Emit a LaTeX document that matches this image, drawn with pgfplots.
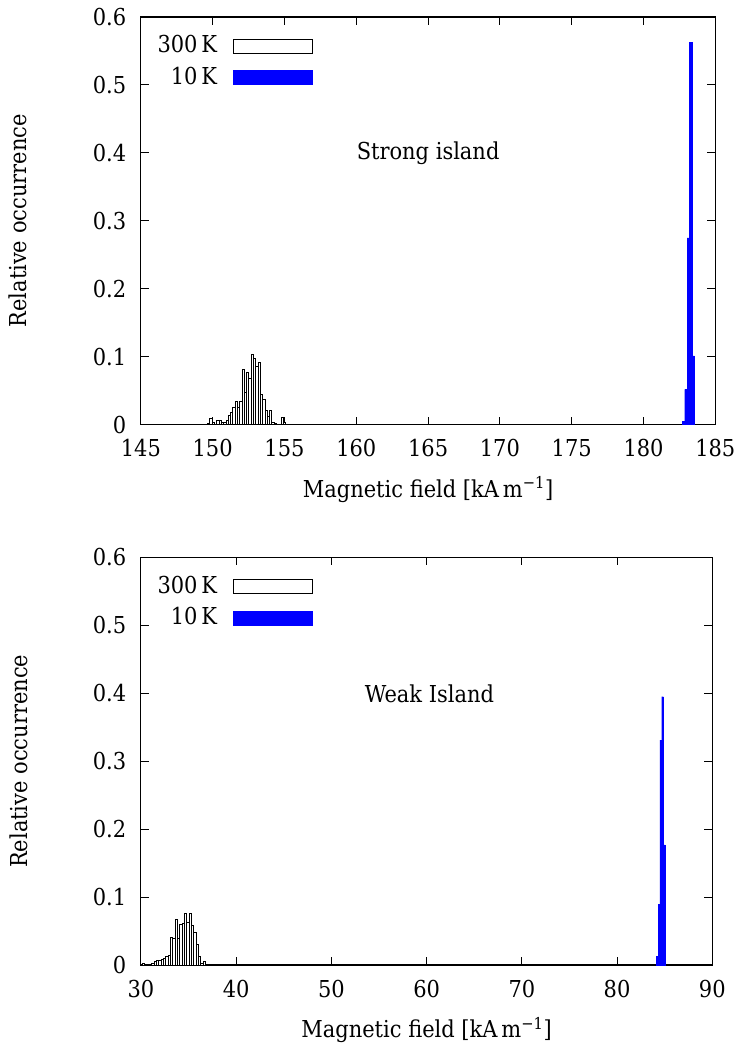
\documentclass[border=0pt]{standalone}
\usepackage{fontspec}
\setmainfont{DejaVu Serif Condensed}
\usepackage{pgfplots}
\usepackage{pgfplotstable}
\pgfplotsset{compat=1.18}
\definecolor{myblue}{RGB}{0,0,255}

\pgfplotstableread{
x y
149.48 0.001
149.64 0.002
149.80 0.009
149.96 0.003
150.12 0.001
150.28 0.006
150.44 0.006
150.60 0.003
150.76 0.004
150.92 0.006
151.08 0.014
151.24 0.018
151.40 0.025
151.56 0.034
151.72 0.025
151.88 0.034
152.04 0.082
152.20 0.047
152.36 0.077
152.52 0.068
152.68 0.104
152.84 0.098
153.00 0.086
153.16 0.092
153.32 0.044
153.48 0.037
153.64 0.021
153.80 0.012
153.96 0.021
154.12 0.004
154.28 0.002
154.44 0.000
154.60 0.000
154.76 0.010
154.92 0.003
155.08 0.000
}\strongwarm

\pgfplotstableread{
x y
182.70 0.005
182.87 0.052
183.03 0.275
183.20 0.563
183.37 0.101
183.54 0
}\strongcold

\pgfplotstableread{
x y
30.175 0.002
30.420 0.000
30.665 0.000
30.909 0.001
31.154 0.002
31.399 0.006
31.644 0.007
31.889 0.007
32.134 0.008
32.378 0.010
32.623 0.013
32.868 0.015
33.113 0.041
33.358 0.040
33.602 0.067
33.847 0.040
34.092 0.060
34.337 0.062
34.582 0.076
34.826 0.063
35.071 0.076
35.316 0.058
35.561 0.048
35.806 0.030
36.050 0.013
36.295 0.003
36.540 0.005
36.785 0
}\weakwarm

\pgfplotstableread{
x y
84.14 0.013
84.32 0.089
84.50 0.331
84.68 0.395
84.86 0.177
85.04 0
}\weakcold

\pgfplotsset{
  boxlegend/.style={legend image code/.code={\draw[##1] (0pt,-5.25pt) rectangle (59pt,5.25pt);}},
  hist/.style={
    scale only axis, height=306pt,
    ymin=0, ymax=0.6, ytick={0,0.1,0.2,0.3,0.4,0.5,0.6},
    tick align=inside, major tick length=6pt,
    xtick pos=both, ytick pos=both,
    axis line style={line width=0.9pt},
    every tick/.style={black, line width=0.8pt},
    /pgf/number format/assume math mode=true,
    yticklabel style={/pgf/number format/fixed, /pgf/number format/precision=1, xshift=-5pt},
    xticklabel style={yshift=-5pt},
    ylabel={Relative occurrence},
    xlabel={Magnetic field [kA\,m\textsuperscript{−1}]},
    ylabel style={at={(axis description cs:-0.214,0.5)}, anchor=center},
    xlabel style={at={(axis description cs:0.5,-0.159)}, anchor=center},
    legend style={draw=none, fill=none, at={(axis description cs:0.017,0.968)}, anchor=north west,
      row sep=4pt, column sep=4pt, /tikz/every odd column/.style={column sep=10pt}},
    legend cell align=right, legend plot pos=right,
  }
}

\begin{document}
\fontsize{17.5pt}{20pt}\selectfont
\begin{tikzpicture}
\path[use as bounding box] (-105.75pt,12.75pt) rectangle (447pt,-778.5pt);
\begin{axis}[hist, width=431.25pt, at={(0pt,0pt)}, anchor=north west,
  xmin=145, xmax=185, xtick={145,150,...,185}]
\addplot[ybar interval, fill=white, draw=black, line width=0.55pt, boxlegend] table[x=x,y=y] {\strongwarm};
\addlegendentry{300\,K}
\addplot[ybar interval, fill=myblue, draw=myblue, line width=0.2pt, boxlegend] table[x=x,y=y] {\strongcold};
\addlegendentry{10\,K}
\node at (axis cs:165,0.40) {Strong island};
\end{axis}
\begin{axis}[hist, width=429pt, at={(0pt,-405.75pt)}, anchor=north west,
  xmin=30, xmax=90, xtick={30,40,...,90}]
\addplot[ybar interval, fill=white, draw=black, line width=0.55pt, boxlegend] table[x=x,y=y] {\weakwarm};
\addlegendentry{300\,K}
\addplot[ybar interval, fill=myblue, draw=myblue, line width=0.2pt, boxlegend] table[x=x,y=y] {\weakcold};
\addlegendentry{10\,K}
\node at (axis cs:60.3,0.40) {Weak Island};
\end{axis}
\end{tikzpicture}
\end{document}
